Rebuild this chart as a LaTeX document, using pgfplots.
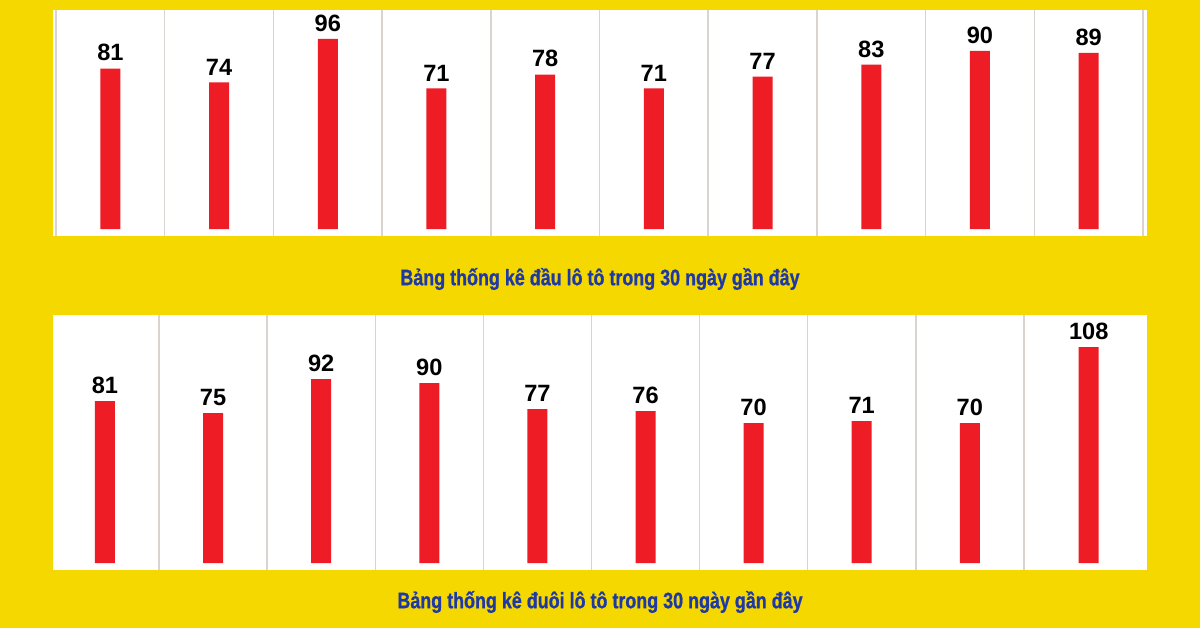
\documentclass[border=0pt]{standalone}
\usepackage{pgfplots}
\pgfplotsset{compat=1.18}
\usepackage{fontspec}
\setmainfont{Liberation Sans}
\newfontfamily\capfont{Liberation Sans Bold}[FakeStretch=0.8, FakeBold=0.8]

\definecolor{bgyellow}{HTML}{F5D800}
\definecolor{barred}{HTML}{EE1C25}
\definecolor{gridgray}{HTML}{D9D4CF}
\definecolor{capblue}{HTML}{1E38A5}

\pgfplotsset{panel/.style={
    scale only axis, anchor=south west, width=547pt,
    axis background/.style={fill=white},
    axis line style={draw=none}, tick style={draw=none},
    xticklabels={}, ytick=\empty,
    xmajorgrids, grid style={gridgray, line width=0.75pt},
    ybar, bar width=10pt,
    nodes near coords,
    nodes near coords style={font=\bfseries\fontsize{11.8}{12}\selectfont,
        text=black, inner sep=0pt, anchor=south, yshift=3.5pt},
    /pgf/number format/assume math mode=true,
    clip=false,
}}

\begin{document}
\begin{tikzpicture}
\useasboundingbox (0,0) rectangle (600pt,314pt);
\fill[bgyellow] (0,0) rectangle (600pt,314pt);

% dau lo to
\begin{axis}[panel, at={(26.5pt,196pt)}, height=113pt,
    xmin=-0.528, xmax=9.537, ymin=-3.5, ymax=110.6,
    xtick={-0.5,0.5,1.5,2.5,3.5,4.5,5.5,6.5,7.5,8.5,9.5}]
\addplot[fill=barred, draw=none] coordinates {
    (0,81) (1,74) (2,96) (3,71) (4,78) (5,71) (6,77) (7,83) (8,90) (9,89)};
\end{axis}

% duoi lo to
\begin{axis}[panel, at={(26.5pt,29pt)}, height=127.5pt,
    xmin=-0.481, xmax=9.639, ymin=-3.5, ymax=124,
    xtick={0.5,1.5,2.5,3.5,4.5,5.5,6.5,7.5,8.5}]
\addplot[fill=barred, draw=none] coordinates {
    (0,81) (1,75) (2,92) (3,90) (4,77) (5,76) (6,70) (7,71) (8,70) (9.1,108)};
\end{axis}

\node[font=\capfont\fontsize{11.2}{12}\selectfont, text=capblue]
    at (300pt,174.5pt) {Bảng thống kê đầu lô tô trong 30 ngày gần đây};
\node[font=\capfont\fontsize{11.2}{12}\selectfont, text=capblue]
    at (300pt,13pt) {Bảng thống kê đuôi lô tô trong 30 ngày gần đây};
\end{tikzpicture}
\end{document}
